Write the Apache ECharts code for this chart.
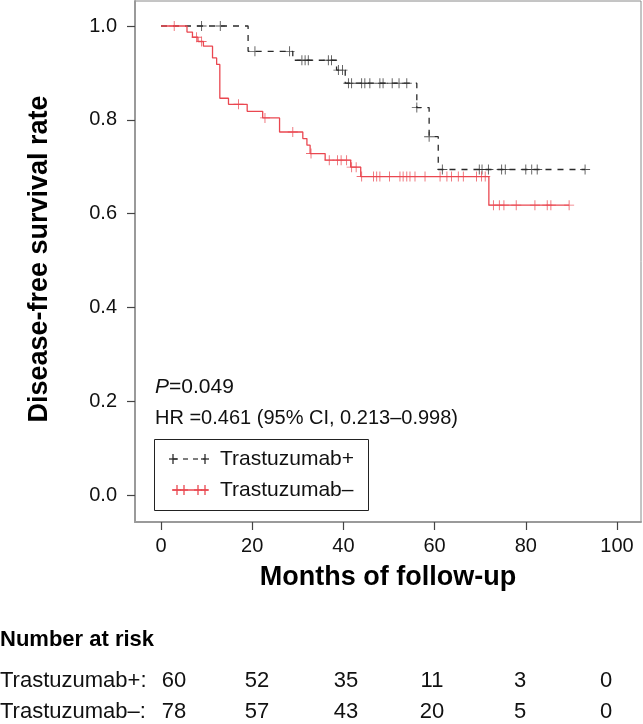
<!DOCTYPE html>
<html><head><meta charset="utf-8">
<script src="https://cdn.jsdelivr.net/npm/echarts@6/dist/echarts.min.js"></script>
<style>html,body{margin:0;padding:0;background:#fff}#c{width:643px;height:724px}</style>
</head><body><div id="c"></div>
<script>
// ---- data ----
const xTicks = [0, 20, 40, 60, 80, 100];
const yTicks = [0.0, 0.2, 0.4, 0.6, 0.8, 1.0];
const seriesNames = ['Trastuzumab+', 'Trastuzumab–'];
// Trastuzumab+ : step times (months) and survival after each step
const plusTimes = [0, 19.1, 28.9, 38.5, 40.4, 56.1, 58.8, 60.8, 93.0];
const plusSurv  = [1.0, 0.946, 0.927, 0.906, 0.878, 0.826, 0.764, 0.694, 0.694];
const plusCensor = [8.9, 13.0, 20.6, 28.2, 30.9, 31.6, 32.3, 36.7, 37.4, 38.9, 39.8, 41.1, 41.8, 44.0, 44.7, 45.8, 48.0, 48.7, 50.7, 52.2, 53.9, 56.1, 58.8, 61.7, 69.8, 70.4, 71.8, 74.7, 75.5, 80.0, 81.3, 82.5, 93.0];
// Trastuzumab–
const minusTimes = [0, 5.7, 6.9, 8.1, 9.3, 11.3, 12.2, 12.9, 14.8, 18.9, 22.3, 26.0, 31.1, 32.0, 32.7, 36.0, 41.6, 43.8, 71.9, 89.5];
const minusSurv  = [1.0, 0.987, 0.976, 0.967, 0.957, 0.932, 0.918, 0.846, 0.833, 0.818, 0.804, 0.774, 0.760, 0.746, 0.728, 0.714, 0.699, 0.679, 0.618, 0.618];
const minusCensor = [2.9, 7.8, 8.9, 17.0, 22.8, 28.9, 32.9, 36.9, 38.7, 39.5, 40.7, 41.8, 42.8, 44.0, 46.6, 47.3, 48.0, 50.1, 52.4, 53.1, 53.9, 54.6, 55.7, 57.9, 61.2, 62.7, 63.7, 65.2, 66.3, 69.2, 70.3, 71.1, 72.9, 74.2, 75.2, 77.9, 82.0, 84.7, 85.5, 89.5];
const riskHeader = 'Number at risk';
const riskLabels = ['Trastuzumab+:', 'Trastuzumab–:'];
const riskPlus  = [60, 52, 35, 11, 3, 0];
const riskMinus = [78, 57, 43, 20, 5, 0];
const pText = '=0.049';
const hrText = 'HR =0.461 (95% CI, 0.213–0.998)';
const xTitle = 'Months of follow-up';
const yTitle = 'Disease-free survival rate';

// ---- helpers ----
function levelAt(times, surv, t) {
  let v = surv[0];
  for (let i = 0; i < times.length; i++) if (times[i] <= t + 1e-9) v = surv[i];
  return v;
}
const FONT = '"Liberation Sans", Arial, Helvetica, sans-serif';
const PLUS = 'path://M-0.09,-1 L0.09,-1 L0.09,-0.09 L1,-0.09 L1,0.09 L0.09,0.09 L0.09,1 L-0.09,1 L-0.09,0.09 L-1,0.09 L-1,-0.09 L-0.09,-0.09 Z';
const BLACK = '#2a2a2a', RED = '#ea4750';

const chart = echarts.init(document.getElementById('c'), null, {renderer: 'canvas'});

// layout
const riskCols = [174, 257, 346, 432, 520, 606];
const riskRowsY = [681, 712];

const graphics = [
  {type: 'text', x: 388, y: 578, style: {text: xTitle, font: 'bold 27px ' + FONT, fill: '#000', align: 'center', verticalAlign: 'middle'}},
  {type: 'text', x: 40, y: 259, rotation: Math.PI / 2, style: {text: yTitle, font: 'bold 27px ' + FONT, fill: '#000', align: 'center', verticalAlign: 'middle'}},
  {type: 'text', x: 155, y: 387, style: {text: '{i|P}{n|' + pText + '}', rich: {i: {fontStyle: 'italic', fontSize: 21, fontFamily: FONT, fill: '#111'}, n: {fontSize: 21, fontFamily: FONT, fill: '#111'}}, verticalAlign: 'middle'}},
  {type: 'text', x: 155, y: 418, style: {text: hrText, font: '20px ' + FONT, fill: '#111', verticalAlign: 'middle'}},
  {type: 'rect', shape: {x: 154.5, y: 439.5, width: 214, height: 71}, style: {fill: '#fff', stroke: '#222', lineWidth: 1}},
  {type: 'line', shape: {x1: 173, y1: 459, x2: 205, y2: 459}, style: {stroke: BLACK, lineWidth: 1.2, lineDash: [5, 5]}},
  {type: 'text', x: 220, y: 459, style: {text: seriesNames[0], font: '21px ' + FONT, fill: '#111', verticalAlign: 'middle'}},
  {type: 'line', shape: {x1: 172, y1: 490, x2: 208, y2: 490}, style: {stroke: RED, lineWidth: 1.3}},
  {type: 'text', x: 220, y: 490, style: {text: seriesNames[1], font: '21px ' + FONT, fill: '#111', verticalAlign: 'middle'}},
  {type: 'text', x: 0, y: 640, style: {text: riskHeader, font: 'bold 22px ' + FONT, fill: '#000', verticalAlign: 'middle'}}
];
[[173, 459, BLACK], [205, 459, BLACK], [177, 490, RED], [184, 490, RED], [198, 490, RED], [205, 490, RED]].forEach(p => {
  graphics.push({type: 'line', shape: {x1: p[0], y1: p[1] - 5, x2: p[0], y2: p[1] + 5}, style: {stroke: p[2], lineWidth: 1.3}});
  graphics.push({type: 'line', shape: {x1: p[0] - 4, y1: p[1], x2: p[0] + 4, y2: p[1]}, style: {stroke: p[2], lineWidth: 1.3}});
});
[riskPlus, riskMinus].forEach((row, r) => {
  graphics.push({type: 'text', x: 0, y: riskRowsY[r], style: {text: riskLabels[r], font: '22px ' + FONT, fill: '#111', verticalAlign: 'middle'}});
  row.forEach((v, i) => graphics.push({type: 'text', x: riskCols[i], y: riskRowsY[r], style: {text: String(v), font: '22px ' + FONT, fill: '#111', align: 'center', verticalAlign: 'middle'}}));
});

const option = {
  backgroundColor: '#fff',
  animation: false,
  grid: {left: 135, right: 2, top: 1, bottom: 202, show: true, borderColor: '#8a8a8a', borderWidth: 1, containLabel: false},
  xAxis: {
    type: 'value', min: (135 - 161) / 4.56, max: (641 - 161) / 4.56,
    axisLine: {show: true, onZero: false, lineStyle: {color: '#9a9a9a', width: 2}},
    axisTick: {show: true, customValues: xTicks, length: 8, lineStyle: {color: '#444', width: 1.2}},
    axisLabel: {customValues: xTicks, fontSize: 20, fontFamily: FONT, color: '#111', margin: 14},
    splitLine: {show: false}
  },
  yAxis: {
    type: 'value', min: (495 - 522) / 469, max: (495 - 1) / 469,
    axisLine: {show: true, onZero: false, lineStyle: {color: '#9a9a9a', width: 2}},
    axisTick: {show: true, customValues: yTicks, length: 8, lineStyle: {color: '#444', width: 1.2}},
    axisLabel: {customValues: yTicks, fontSize: 20, fontFamily: FONT, color: '#111', margin: 18, formatter: v => Number(v).toFixed(1)},
    splitLine: {show: false}
  },
  series: [
    {name: seriesNames[0], type: 'line', step: 'end', symbol: 'none', z: 3,
     data: plusTimes.map((t, i) => [t, plusSurv[i]]),
     lineStyle: {color: BLACK, width: 1.3, type: [6, 6]}},
    {name: seriesNames[0] + ' censored', type: 'scatter', symbol: PLUS, symbolSize: 10, z: 4,
     data: plusCensor.map(t => [t, levelAt(plusTimes, plusSurv, t)]),
     itemStyle: {color: BLACK}},
    {name: seriesNames[1], type: 'line', step: 'end', symbol: 'none', z: 3,
     data: minusTimes.map((t, i) => [t, minusSurv[i]]),
     lineStyle: {color: RED, width: 1.3}},
    {name: seriesNames[1] + ' censored', type: 'scatter', symbol: PLUS, symbolSize: 10, z: 4,
     data: minusCensor.map(t => [t, levelAt(minusTimes, minusSurv, t)]),
     itemStyle: {color: RED}}
  ],
  graphic: graphics
};
chart.setOption(option);
</script>
</body></html>
